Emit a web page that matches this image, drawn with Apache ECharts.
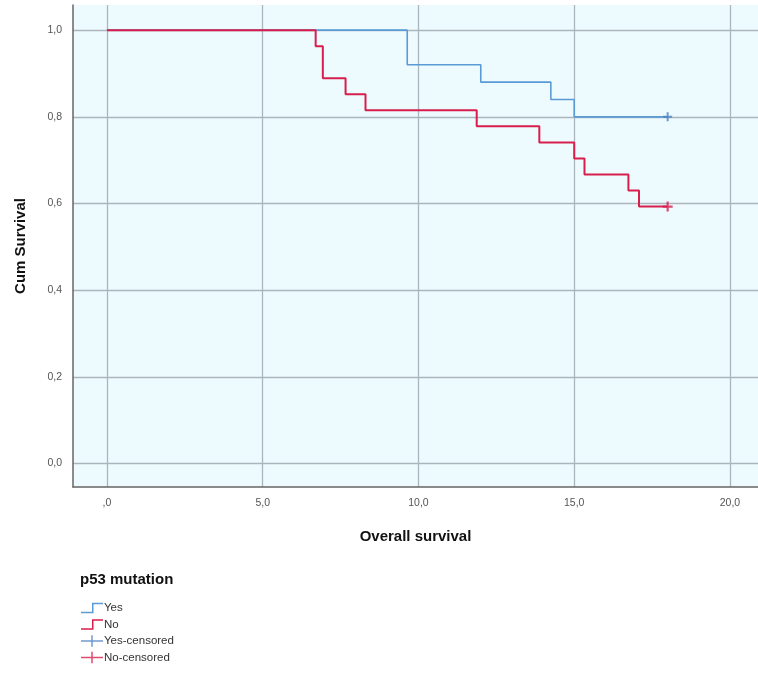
<!DOCTYPE html>
<html><head><meta charset="utf-8">
<script src="https://cdn.jsdelivr.net/npm/echarts@6/dist/echarts.min.js"></script>
<style>html,body{margin:0;padding:0;background:#fff}#c{width:758px;height:679px}</style>
</head><body><div id="c"></div>
<script>
// Kaplan-Meier steps: [time, cumulative survival]
const yesTimes = [0, 9.64, 12.0, 14.25, 15.0, 18.0];
const yesSurv  = [1.0, 0.92, 0.88, 0.84, 0.80, 0.80];
const noTimes  = [0, 6.7, 6.93, 7.66, 8.3, 11.87, 13.88, 15.0, 15.33, 16.74, 17.08, 18.0];
const noSurv   = [1.0, 0.963, 0.889, 0.852, 0.815, 0.778, 0.741, 0.704, 0.667, 0.630, 0.593, 0.593];
const yesCensored = [[18.0, 0.80]];
const noCensored  = [[18.0, 0.593]];
const xTicks = [0, 5, 10, 15, 20];
const yTicks = [0, 0.2, 0.4, 0.6, 0.8, 1.0];
const seriesNames = ['Yes', 'No', 'Yes-censored', 'No-censored'];

const blue = '#5b9bd5', red = '#d81e4d';
const fmtX = v => { const s = v.toFixed(1).replace('.', ','); return s.startsWith('0,') ? s.slice(1) : s; };
const fmtY = v => v.toFixed(1).replace('.', ',');
const plus = 'path://M0,3.9 H10 V6.1 H0 Z M3.9,0 H6.1 V10 H3.9 Z';
const stepIcon = 'path://M0,9 H11 V0 H22 V1.5 H12.5 V10.5 H0 Z';
const plusIcon = 'path://M0,5 H22 V6.5 H0 Z M10.25,0 H11.75 V11.5 H10.25 Z';

const chart = echarts.init(document.getElementById('c'), null, {renderer: 'canvas'});
chart.setOption({
  animation: false,
  backgroundColor: '#ffffff',
  textStyle: {fontFamily: 'Liberation Sans, Arial, sans-serif'},
  title: {text: 'p53 mutation', left: 75, top: 567,
    textStyle: {fontSize: 15, fontWeight: 'bold', color: '#111', fontFamily: 'Liberation Sans, Arial, sans-serif'}},
  legend: {
    orient: 'vertical', left: 76, top: 597, itemGap: 4.5, itemWidth: 22, itemHeight: 12,
    data: [
      {name: seriesNames[0], icon: stepIcon},
      {name: seriesNames[1], icon: stepIcon},
      {name: seriesNames[2], icon: plusIcon},
      {name: seriesNames[3], icon: plusIcon}
    ],
    textStyle: {fontSize: 11.5, color: '#333', padding: [0, 0, 0, -4]}
  },
  grid: {left: 73, right: -1, top: 5, bottom: 192, show: true, backgroundColor: '#eefbfe', borderWidth: 0},
  xAxis: {
    type: 'value', min: -1.09, max: 20.9,
    name: 'Overall survival', nameLocation: 'middle', nameGap: 42,
    nameTextStyle: {fontSize: 15, fontWeight: 'bold', color: '#111', padding: [0, 0, 0, 0]},
    axisLine: {show: true, onZero: false, lineStyle: {color: '#666', width: 1.5}},
    axisTick: {show: false, customValues: xTicks},
    axisLabel: {customValues: xTicks, formatter: fmtX, color: '#555', fontSize: 10.5, margin: 11},
    splitLine: {show: true, lineStyle: {color: '#aab5bd', width: 1.3}}
  },
  yAxis: {
    type: 'value', min: -0.054, max: 1.058,
    name: 'Cum Survival', nameLocation: 'middle', nameGap: 45,
    nameTextStyle: {fontSize: 15, fontWeight: 'bold', color: '#111'},
    axisLine: {show: true, onZero: false, lineStyle: {color: '#666', width: 1.5}},
    axisTick: {show: false, customValues: yTicks},
    axisLabel: {customValues: yTicks, formatter: fmtY, color: '#555', fontSize: 10.5, margin: 11},
    splitLine: {show: true, lineStyle: {color: '#aab5bd', width: 1.3}}
  },
  series: [
    {name: seriesNames[0], type: 'line', step: 'end', showSymbol: false, color: blue,
     lineStyle: {width: 1.6, color: blue}, z: 3,
     data: yesTimes.map((t, i) => [t, yesSurv[i]])},
    {name: seriesNames[1], type: 'line', step: 'end', showSymbol: false, color: red,
     lineStyle: {width: 2, color: red}, z: 4,
     data: noTimes.map((t, i) => [t, noSurv[i]])},
    {name: seriesNames[2], type: 'scatter', symbol: plus, symbolSize: 9, color: blue,
     itemStyle: {color: '#4a82c4'}, z: 5, data: yesCensored},
    {name: seriesNames[3], type: 'scatter', symbol: plus, symbolSize: 10, color: red,
     itemStyle: {color: red}, z: 6, data: noCensored}
  ]
});
</script></body></html>
